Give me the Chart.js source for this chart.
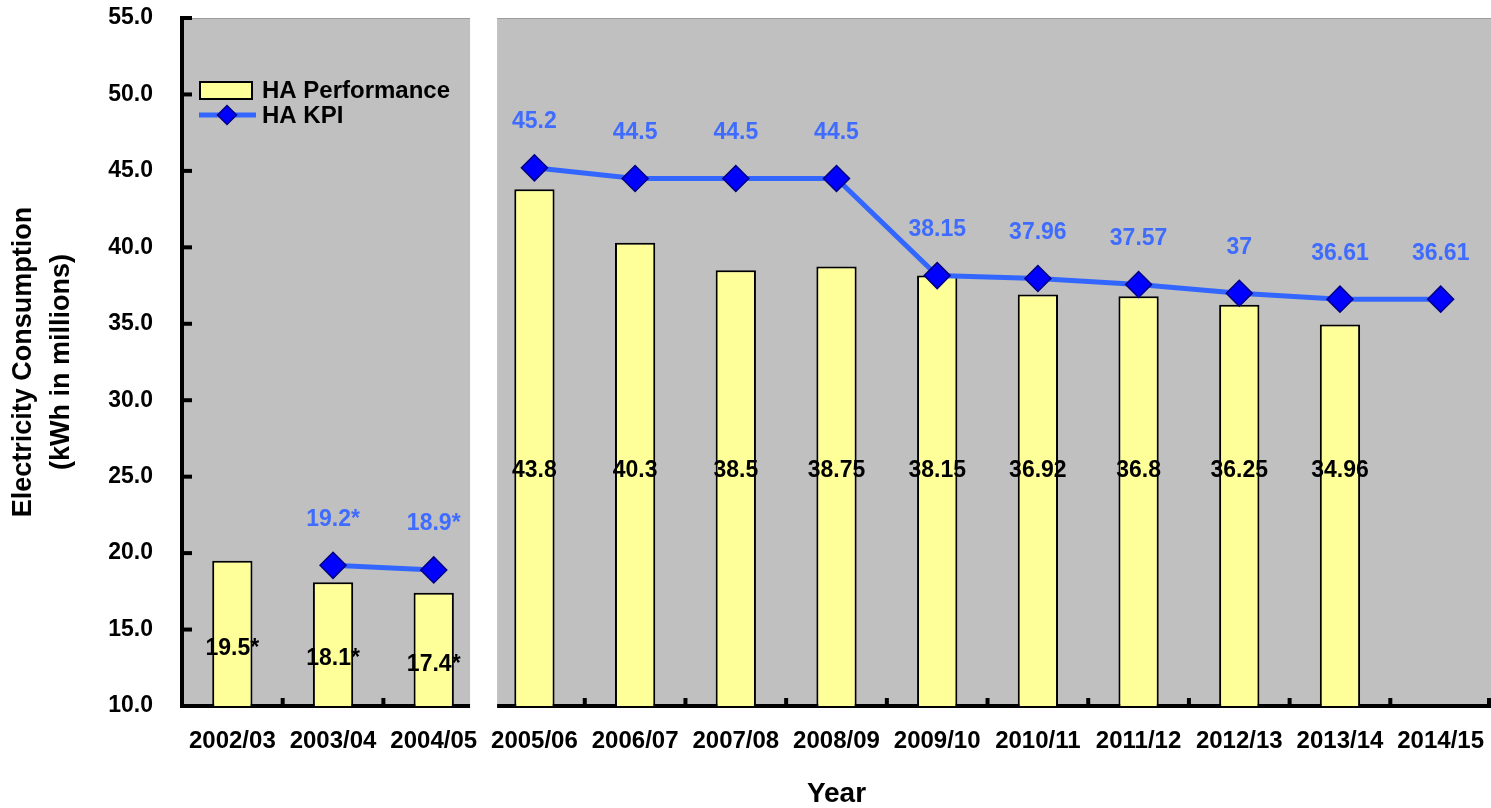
<!DOCTYPE html>
<html>
<head>
<meta charset="utf-8">
<script src="https://cdn.jsdelivr.net/npm/chart.js@4/dist/chart.umd.min.js"></script>
<style>html,body{margin:0;padding:0;background:#fff;overflow:hidden}canvas{display:block}</style>
</head>
<body>
<canvas id="c" width="1491" height="808"></canvas>
<script>
// ---- data ----
const years = ['2002/03','2003/04','2004/05','2005/06','2006/07','2007/08','2008/09','2009/10','2010/11','2011/12','2012/13','2013/14','2014/15'];
const performance = [19.5, 18.1, 17.4, 43.8, 40.3, 38.5, 38.75, 38.15, 36.92, 36.8, 36.25, 34.96, null];
const kpi = [null, 19.2, 18.9, 45.2, 44.5, 44.5, 44.5, 38.15, 37.96, 37.57, 37, 36.61, 36.61];
const estimated = [true, true, true, false, false, false, false, false, false, false, false, false, false];
const yTicks = [10, 15, 20, 25, 30, 35, 40, 45, 50, 55];
const breakAfter = 2; // axis break between 2004/05 and 2005/06

const FONT = "'Liberation Sans', Arial, Helvetica, sans-serif";
const BLUE_LINE = '#3366FF';
const BLUE_TEXT = '#3F6CFF';
const BAR_FILL = '#FFFF99';

function diamond(ctx, cx, cy, r) {
  ctx.beginPath();
  ctx.moveTo(cx - r, cy); ctx.lineTo(cx, cy - r); ctx.lineTo(cx + r, cy); ctx.lineTo(cx, cy + r);
  ctx.closePath();
  ctx.fillStyle = '#0000FF'; ctx.fill();
  ctx.lineWidth = 1.5; ctx.strokeStyle = '#000080'; ctx.stroke();
}

const decor = {
  id: 'decor',
  beforeDraw(chart) {
    const {ctx, chartArea: a} = chart;
    ctx.save();
    ctx.fillStyle = '#C0C0C0';
    ctx.fillRect(a.left, a.top, a.right - a.left, a.bottom - a.top);
    ctx.fillStyle = '#9C9C9C';
    ctx.fillRect(a.left, a.top, a.right - a.left, 1);
    ctx.restore();
  },
  afterDraw(chart) {
    const {ctx, chartArea: a, scales: {x, y}} = chart;
    ctx.save();
    ctx.fillStyle = '#000';
    // inner y ticks
    y.ticks.forEach(t => {
      const py = y.getPixelForValue(t.value);
      ctx.fillRect(a.left, py - 2, 10, 4);
    });
    // inner x ticks at category boundaries
    for (let i = 0; i < years.length; i++) {
      const bx = i < years.length - 1 ? (x.getPixelForValue(i) + x.getPixelForValue(i + 1)) / 2 : a.right - 2;
      ctx.fillRect(bx - 2, a.bottom - 8, 4, 8);
    }
    // break gap
    const gx = (x.getPixelForValue(breakAfter) + x.getPixelForValue(breakAfter + 1)) / 2;
    ctx.fillStyle = '#fff';
    ctx.fillRect(gx - 14, a.top - 2, 27, a.bottom - a.top + 10);

    // bar value labels
    ctx.textAlign = 'center';
    ctx.textBaseline = 'middle';
    ctx.font = 'bold 23px ' + FONT;
    ctx.fillStyle = '#000';
    const barMeta = chart.getDatasetMeta(1);
    const basePx = y.getPixelForValue(y.min);
    performance.forEach((v, i) => {
      if (v == null) return;
      const el = barMeta.data[i];
      const ly = i <= breakAfter ? (el.y + basePx) / 2 + 15 : y.getPixelForValue(25.4);
      ctx.fillText(String(v) + (estimated[i] ? '*' : ''), el.x, ly);
    });
    // KPI labels
    ctx.fillStyle = BLUE_TEXT;
    const lineMeta = chart.getDatasetMeta(0);
    kpi.forEach((v, i) => {
      if (v == null) return;
      const el = lineMeta.data[i];
      ctx.fillText(String(v) + (estimated[i] ? '*' : ''), el.x, el.y - 46);
    });

    // legend
    const lx = a.left + 18, ly1 = a.top + 64, ly2 = a.top + 97;
    ctx.fillStyle = BAR_FILL;
    ctx.fillRect(lx, ly1, 52, 17);
    ctx.lineWidth = 2; ctx.strokeStyle = '#000';
    ctx.strokeRect(lx, ly1, 52, 17);
    ctx.strokeStyle = BLUE_LINE; ctx.lineWidth = 5;
    ctx.beginPath(); ctx.moveTo(lx - 1, ly2); ctx.lineTo(lx + 56, ly2); ctx.stroke();
    diamond(ctx, lx + 27, ly2, 9.5);
    ctx.fillStyle = '#000';
    ctx.textAlign = 'left';
    ctx.font = 'bold 24px ' + FONT;
    ctx.fillText('HA Performance', lx + 62, ly1 + 9);
    ctx.fillText('HA KPI', lx + 62, ly2 + 1);
    ctx.restore();
  }
};

new Chart(document.getElementById('c'), {
  data: {
    labels: years,
    datasets: [
      {
        type: 'line', label: 'HA KPI', data: kpi, order: 0,
        borderColor: BLUE_LINE, borderWidth: 5, tension: 0, spanGaps: false,
        pointStyle: 'rectRot', pointRadius: 13, pointHoverRadius: 13,
        pointBackgroundColor: '#0000FF', pointBorderColor: '#000080', pointBorderWidth: 1.5,
        segment: { borderColor: c => (c.p0DataIndex === breakAfter ? 'rgba(0,0,0,0)' : BLUE_LINE) }
      },
      {
        type: 'bar', label: 'HA Performance', data: performance, order: 1,
        backgroundColor: BAR_FILL, borderColor: '#000', borderWidth: 2,
        barPercentage: 0.4, categoryPercentage: 1
      }
    ]
  },
  options: {
    responsive: false, animation: false, devicePixelRatio: 1,
    layout: { autoPadding: false, padding: { top: 18, left: 0, right: 0, bottom: 0 } },
    plugins: { legend: { display: false }, tooltip: { enabled: false } },
    scales: {
      x: {
        grid: { display: false, drawTicks: false },
        border: { display: true, color: '#000', width: 4 },
        ticks: { color: '#000', font: { family: FONT, size: 24, weight: 'bold', lineHeight: 2.4 }, padding: 7, maxRotation: 0, autoSkip: false },
        title: { display: true, text: 'Year', color: '#000', font: { family: FONT, size: 28, weight: 'bold', lineHeight: 1 }, padding: 0 },
        afterFit(s) { s.height = 102; s.paddingLeft = 0; s.paddingRight = 0; }
      },
      y: {
        min: 10, max: 55,
        afterBuildTicks(s) { s.ticks = yTicks.map(v => ({ value: v })); },
        grid: { display: false, drawTicks: false },
        border: { display: true, color: '#000', width: 4 },
        ticks: { color: '#000', font: { family: FONT, size: 23, weight: 'bold' }, padding: 29, callback: v => Number(v).toFixed(1) },
        title: { display: true, text: ['Electricity Consumption', '(kWh in millions)'], color: '#000', font: { family: FONT, size: 27, weight: 'bold', lineHeight: 1.4 }, padding: { top: 5, bottom: 0 } },
        afterFit(s) { s.width = 182; s.paddingTop = 0; s.paddingBottom = 0; }
      }
    }
  },
  plugins: [decor]
});
</script>
</body>
</html>
